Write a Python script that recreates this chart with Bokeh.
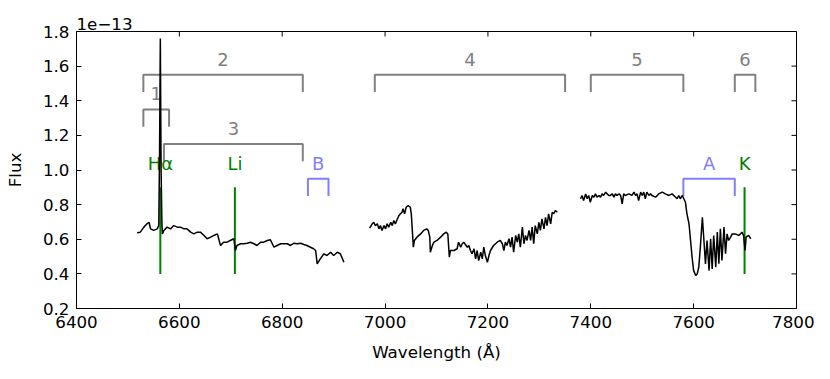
from bokeh.plotting import figure
from bokeh.models import FixedTicker, ColumnDataSource, PrintfTickFormatter
from bokeh.core.properties import value
from bokeh.embed import file_html
from bokeh.resources import INLINE

# ---------------- data ----------------
wave_a = [6518, 6524, 6531, 6537, 6541, 6544, 6550, 6557, 6560, 6561.5, 6562.5, 6563, 6563.5, 6564.5, 6566,
          6567, 6570, 6576, 6583, 6589, 6596, 6602, 6609, 6615, 6622, 6628, 6635, 6641, 6648, 6654, 6661,
          6667, 6674, 6680, 6686, 6693, 6699, 6706, 6709, 6712, 6719, 6725, 6732, 6738, 6745, 6751, 6758,
          6764, 6771, 6777, 6784, 6790, 6797, 6803, 6810, 6816, 6823, 6829, 6836, 6842, 6848, 6855, 6861,
          6865, 6868, 6874, 6881, 6887, 6894, 6900, 6907, 6913, 6920]
flux_a = [0.637, 0.641, 0.670, 0.689, 0.698, 0.660, 0.651, 0.660, 0.68, 1.10, 1.55, 1.76, 1.50, 1.00, 0.70,
          0.631, 0.651, 0.670, 0.660, 0.679, 0.670, 0.670, 0.660, 0.660, 0.641, 0.631, 0.641, 0.641, 0.622,
          0.603, 0.612, 0.622, 0.631, 0.564, 0.583, 0.583, 0.593, 0.603, 0.535, 0.564, 0.574, 0.574, 0.577,
          0.583, 0.574, 0.564, 0.583, 0.583, 0.593, 0.597, 0.554, 0.564, 0.574, 0.574, 0.574, 0.564, 0.577,
          0.574, 0.577, 0.570, 0.564, 0.554, 0.545, 0.535, 0.458, 0.487, 0.516, 0.506, 0.525, 0.506, 0.525,
          0.516, 0.467]

wave_b = [6970, 6975, 6978, 6981, 6985, 6988, 6991, 6994, 6998, 7001, 7004, 7007, 7011, 7014, 7017,
          7020, 7024, 7027, 7030, 7033, 7035, 7038, 7041, 7045, 7049, 7051, 7055, 7057, 7062, 7069, 7075,
          7081, 7084, 7087, 7088, 7092, 7095, 7101, 7108, 7114, 7119, 7122, 7125, 7127, 7134, 7140, 7143,
          7147, 7150, 7153, 7160, 7163, 7166, 7169, 7173, 7176, 7179, 7182, 7186, 7189, 7192, 7195, 7199,
          7202, 7205, 7211, 7218, 7224, 7228, 7231, 7234, 7237, 7241, 7244, 7247, 7250, 7254, 7257, 7260,
          7263, 7267, 7270, 7273, 7276, 7280, 7283, 7286, 7289, 7292, 7296, 7299, 7302, 7305, 7309, 7312,
          7315, 7318, 7322, 7325, 7328, 7331, 7335]
flux_b = [0.664, 0.689, 0.698, 0.679, 0.689, 0.660, 0.679, 0.651, 0.679, 0.660, 0.689, 0.670, 0.698, 0.679,
          0.708, 0.689, 0.718, 0.737, 0.747, 0.756, 0.776, 0.747, 0.785, 0.795, 0.785, 0.747, 0.554, 0.593,
          0.612, 0.631, 0.651, 0.660, 0.651, 0.612, 0.525, 0.564, 0.583, 0.593, 0.612, 0.631, 0.641, 0.631,
          0.496, 0.535, 0.535, 0.545, 0.583, 0.554, 0.574, 0.583, 0.554, 0.564, 0.535, 0.516, 0.545, 0.487,
          0.535, 0.477, 0.525, 0.487, 0.554, 0.506, 0.467, 0.506, 0.535, 0.564, 0.583, 0.593, 0.574, 0.535,
          0.583, 0.564, 0.603, 0.554, 0.612, 0.525, 0.622, 0.583, 0.631, 0.554, 0.670, 0.574, 0.622, 0.593,
          0.651, 0.593, 0.670, 0.574, 0.679, 0.631, 0.698, 0.651, 0.718, 0.660, 0.727, 0.679, 0.747, 0.689,
          0.756, 0.747, 0.766, 0.756]

wave_c = [7380, 7383, 7386, 7390, 7393, 7396, 7399, 7403, 7406, 7409, 7412, 7416, 7419, 7422, 7425, 7429,
          7432, 7435, 7438, 7442, 7445, 7448, 7451, 7455, 7458, 7461, 7464, 7467, 7474, 7480, 7484, 7487,
          7490, 7493, 7497, 7500, 7503, 7506, 7509, 7513, 7516, 7519, 7526, 7532, 7539, 7545, 7552, 7558,
          7565, 7568, 7571, 7574, 7578, 7581, 7584, 7587, 7591, 7594, 7597, 7600, 7604, 7607, 7610, 7613,
          7617, 7620, 7623, 7626, 7630, 7633, 7636, 7639, 7643, 7646, 7649, 7652, 7655, 7659, 7662, 7665,
          7668, 7672, 7675, 7681, 7688, 7694, 7697, 7700, 7702, 7707, 7711]
flux_c = [0.834, 0.853, 0.824, 0.862, 0.834, 0.853, 0.814, 0.853, 0.843, 0.862, 0.843, 0.853, 0.843, 0.862,
          0.853, 0.872, 0.862, 0.853, 0.853, 0.862, 0.843, 0.862, 0.853, 0.862, 0.853, 0.805, 0.862, 0.853,
          0.862, 0.853, 0.872, 0.853, 0.862, 0.824, 0.872, 0.853, 0.872, 0.834, 0.872, 0.853, 0.862, 0.853,
          0.843, 0.862, 0.872, 0.862, 0.853, 0.862, 0.843, 0.834, 0.853, 0.834, 0.853, 0.834, 0.814, 0.747,
          0.689, 0.593, 0.496, 0.419, 0.391, 0.400, 0.439, 0.554, 0.727, 0.593, 0.458, 0.593, 0.419, 0.603,
          0.429, 0.622, 0.439, 0.641, 0.458, 0.660, 0.477, 0.670, 0.516, 0.631, 0.593, 0.612, 0.631, 0.631,
          0.622, 0.641, 0.622, 0.535, 0.612, 0.622, 0.603]

# numbered wavelength windows (gray brackets)
window_labels = ["1", "2", "3", "4", "5", "6"]
window_start = [6530, 6530, 6570, 6980, 7400, 7680]
window_end = [6580, 6840, 6840, 7350, 7580, 7720]
window_level = [1.35, 1.55, 1.15, 1.55, 1.55, 1.55]

# telluric bands (blue brackets)
band_labels = ["B", "A"]
band_start = [6850, 7580]
band_end = [6890, 7680]
band_level = [0.95, 0.95]

# spectral lines (green markers)
line_labels = ["H\u03b1", "Li", "K"]
line_wave = [6563, 6708, 7699]
line_low = [0.4, 0.4, 0.4]
line_high = [0.9, 0.9, 0.9]

x_ticks = [6400, 6600, 6800, 7000, 7200, 7400, 7600, 7800]
y_ticks = [0.2, 0.4, 0.6, 0.8, 1.0, 1.2, 1.4, 1.6, 1.8]
x_min, x_max = 6400, 7800
y_min, y_max = 0.2, 1.8
scale_text = "1e\u221213"

# ---------------- style ----------------
FONT = "DejaVu Sans"
GRAY = "#808080"
BLUE = "#8080ff"
GREEN = "#008000"
LEG = 0.1
LBL = 0.09
TICK_PX = 5
BL, BR, BT, BB = 76, 18, 31, 63
FRAME_W, FRAME_H = 720, 277

p = figure(width=BL + FRAME_W + BR, height=BT + FRAME_H + BB,
           x_range=(x_min, x_max), y_range=(y_min, y_max),
           output_backend="svg", toolbar_location=None,
           min_border_left=BL, min_border_right=BR, min_border_top=BT, min_border_bottom=BB)
p.background_fill_color = "white"
p.border_fill_color = "white"
p.outline_line_color = "black"
p.outline_line_width = 1
p.xgrid.visible = False
p.ygrid.visible = False

# offset text shown as left-aligned title above the frame
p.title.text = scale_text
p.title.align = "left"
p.title.text_font = FONT
p.title.text_font_size = "16.7px"
p.title.text_font_style = "normal"
p.title.text_color = "black"
p.title.standoff = 4
p.title.offset = 0

for ax in (p.xaxis[0], p.yaxis[0]):
    ax.axis_line_color = "black"
    ax.major_tick_in = TICK_PX
    ax.major_tick_out = 0
    ax.minor_tick_in = 0
    ax.minor_tick_out = 0
    ax.major_tick_line_color = "black"
    ax.major_label_text_font = FONT
    ax.major_label_text_font_size = "16.7px"
    ax.major_label_text_color = "black"
    ax.major_label_standoff = 7
    ax.axis_label_text_font = FONT
    ax.axis_label_text_font_size = "16.7px"
    ax.axis_label_text_font_style = "normal"
    ax.axis_label_text_color = "black"

p.xaxis.ticker = FixedTicker(ticks=x_ticks)
p.yaxis.ticker = FixedTicker(ticks=y_ticks)
p.yaxis.formatter = PrintfTickFormatter(format="%.1f")
p.xaxis.axis_label = "Wavelength (\u00c5)"
p.yaxis.axis_label = "Flux"
p.xaxis.axis_label_standoff = 11
p.yaxis.axis_label_standoff = 15

# mirrored inward ticks on top and right edges
dy_tick = TICK_PX * (y_max - y_min) / FRAME_H
dx_tick = TICK_PX * (x_max - x_min) / FRAME_W
p.segment(x0=x_ticks, y0=[y_max] * len(x_ticks), x1=x_ticks, y1=[y_max - dy_tick] * len(x_ticks),
          line_color="black", line_width=1)
p.segment(x0=[x_max] * len(y_ticks), y0=y_ticks, x1=[x_max - dx_tick] * len(y_ticks), y1=y_ticks,
          line_color="black", line_width=1)

# gray windows
win_src = ColumnDataSource(dict(
    xs=[[s, s, e, e] for s, e in zip(window_start, window_end)],
    ys=[[l - LEG, l, l, l - LEG] for l in window_level],
    tx=[(s + e) / 2 for s, e in zip(window_start, window_end)],
    ty=[l + LBL for l in window_level],
    lab=window_labels))
p.multi_line("xs", "ys", source=win_src, line_color=GRAY, line_width=2)
p.text("tx", "ty", text="lab", source=win_src, text_color=GRAY, text_font=value(FONT),
       text_font_size="18px", text_align="center", text_baseline="middle")

# blue bands
band_src = ColumnDataSource(dict(
    xs=[[s, s, e, e] for s, e in zip(band_start, band_end)],
    ys=[[l - LEG, l, l, l - LEG] for l in band_level],
    tx=[(s + e) / 2 for s, e in zip(band_start, band_end)],
    ty=[l + LBL for l in band_level],
    lab=band_labels))
p.multi_line("xs", "ys", source=band_src, line_color=BLUE, line_width=2)
p.text("tx", "ty", text="lab", source=band_src, text_color=BLUE, text_font=value(FONT),
       text_font_size="18px", text_align="center", text_baseline="middle")

# green lines
line_src = ColumnDataSource(dict(x=line_wave, y0=line_low, y1=line_high,
                                 ty=[h + 0.14 for h in line_high], lab=line_labels))
p.segment(x0="x", y0="y0", x1="x", y1="y1", source=line_src, line_color=GREEN, line_width=2)
p.text("x", "ty", text="lab", source=line_src, text_color=GREEN, text_font=value(FONT),
       text_font_size="18px", text_align="center", text_baseline="middle")

# spectrum
for w, f in ((wave_a, flux_a), (wave_b, flux_b), (wave_c, flux_c)):
    p.line(w, f, line_color="black", line_width=1.5)

open("out.html", "w").write(file_html(p, INLINE))
